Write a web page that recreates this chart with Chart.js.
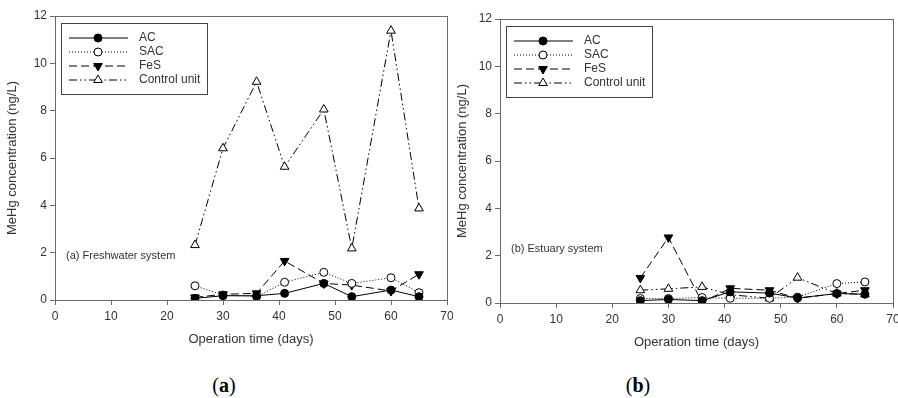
<!DOCTYPE html>
<html>
<head>
<meta charset="utf-8">
<script src="https://cdn.jsdelivr.net/npm/chart.js@4.4.1/dist/chart.umd.min.js"></script>
<style>
  body { margin: 0; background: #fff; width: 898px; height: 398px; overflow: hidden; position: relative; }
  .panel { position: absolute; top: 0; }
  .caption { position: absolute; top: 374px; font-family: 'Liberation Serif', serif; font-size: 20px; color: #000; transform: translateX(-50%); }
  .caption b { font-weight: bold; }
</style>
</head>
<body>
<div class="panel" style="left:0;width:453px;height:350px;"><canvas id="freshChart"></canvas></div>
<div class="panel" style="left:450px;width:449px;height:350px;"><canvas id="estuaryChart"></canvas></div>
<div class="caption" style="left:224px;">(<b>a</b>)</div>
<div class="caption" style="left:638px;">(<b>b</b>)</div>

<script>
// sampling days (x)
const days = [25, 30, 36, 41, 48, 53, 60, 65];
const seriesNames = ['AC', 'SAC', 'FeS', 'Control unit'];
const xTicks = [0, 10, 20, 30, 40, 50, 60, 70];
const yTicks = [0, 2, 4, 6, 8, 10, 12];

// (a) Freshwater system, MeHg ng/L
const freshAC      = [0.07, 0.18, 0.18, 0.28, 0.70, 0.14, 0.42, 0.14];
const freshSAC     = [0.60, 0.21, 0.14, 0.75, 1.17, 0.70, 0.94, 0.31];
const freshFeS     = [0.11, 0.24, 0.28, 1.65, 0.70, 0.63, 0.38, 1.09];
const freshControl = [2.32, 6.41, 9.22, 5.63, 8.05, 2.18, 11.38, 3.87];

// (b) Estuary system, MeHg ng/L
const estAC      = [0.10, 0.15, 0.10, 0.47, 0.42, 0.21, 0.40, 0.37];
const estSAC     = [0.19, 0.19, 0.23, 0.20, 0.20, 0.25, 0.82, 0.89];
const estFeS     = [1.06, 2.77, 0.03, 0.62, 0.54, 0.20, 0.40, 0.54];
const estControl = [0.54, 0.60, 0.68, 0.35, 0.20, 1.07, 0.40, 0.37];

const axisColor = '#6b6b6b';
const textColor = '#333';
const fontFamily = "'Liberation Sans', Arial, sans-serif";

// line + marker style per series
const styles = [
    { dash: [], pointStyle: 'circle', rotation: 0, fill: '#000', radius: 4 },
    { dash: [1, 2], pointStyle: 'circle', rotation: 0, fill: '#fff', radius: 4 },
    { dash: [8, 4], pointStyle: 'triangle', rotation: 180, fill: '#000', radius: 5 },
    { dash: [8, 3, 1.5, 3, 1.5, 3], pointStyle: 'triangle', rotation: 0, fill: '#fff', radius: 5 }
];

function buildDatasets(values) {
    return values.map((vals, i) => ({
        label: seriesNames[i],
        data: days.map((d, j) => ({ x: d, y: vals[j] })),
        borderColor: '#000',
        borderWidth: 1,
        borderDash: styles[i].dash,
        pointStyle: styles[i].pointStyle,
        rotation: styles[i].rotation,
        pointRadius: styles[i].radius,
        pointBackgroundColor: styles[i].fill,
        pointBorderColor: '#000',
        pointBorderWidth: 1,
        tension: 0
    }));
}

// in-plot legend and panel label
const legendPlugin = {
    id: 'legendPlugin',
    afterDraw(chart, args, opts) {
        const ctx = chart.ctx;
        const a = chart.chartArea;
        ctx.save();
        const bx = a.left + 6, by = a.top + 7;
        ctx.setLineDash([]);
        ctx.lineWidth = 1;
        ctx.strokeStyle = '#444';
        ctx.strokeRect(bx + 0.5, by + 0.5, 146, 71);
        ctx.font = '12px ' + fontFamily;
        ctx.textBaseline = 'middle';
        seriesNames.forEach((name, i) => {
            const y = by + 15 + i * 14;
            ctx.strokeStyle = '#000';
            ctx.setLineDash(styles[i].dash);
            ctx.beginPath();
            ctx.moveTo(bx + 8, y);
            ctx.lineTo(bx + 67, y);
            ctx.stroke();
            ctx.setLineDash([]);
            ctx.fillStyle = styles[i].fill;
            ctx.strokeStyle = '#000';
            Chart.helpers.drawPoint(ctx, {
                pointStyle: styles[i].pointStyle,
                rotation: styles[i].rotation,
                radius: styles[i].radius,
                borderWidth: 1
            }, bx + 37, y);
            ctx.fillStyle = textColor;
            ctx.fillText(name, bx + 78, y);
        });

        ctx.font = '11px ' + fontFamily;
        ctx.fillStyle = textColor;
        ctx.fillText(opts.label, a.left + 11, a.top + opts.labelY);
        ctx.restore();
    }
};

// empty axis used only to draw the top / right edge of the box
function edgeAxis(position, min, max) {
    return {
        type: 'linear',
        position: position,
        min: min, max: max,
        display: true,
        ticks: { display: false },
        grid: { drawOnChartArea: false, drawTicks: false },
        border: { display: true, color: axisColor, width: 1 },
        afterFit: s => {
            if (s.isHorizontal()) s.height = 0; else s.width = 0;
            s.paddingLeft = 0; s.paddingRight = 0; s.paddingTop = 0; s.paddingBottom = 0;
        }
    };
}

function makeChart(id, values, cfg) {
    const ctx = document.getElementById(id).getContext('2d');
    return new Chart(ctx, {
        type: 'line',
        data: { datasets: buildDatasets(values) },
        options: {
            responsive: true,
            maintainAspectRatio: false,
            animation: false,
            layout: { padding: { top: cfg.top, right: 0, left: 0, bottom: 0 } },
            plugins: {
                legend: { display: false },
                tooltip: { enabled: false },
                legendPlugin: { label: cfg.label, labelY: cfg.labelY }
            },
            scales: {
                x: {
                    type: 'linear',
                    min: 0, max: 70,
                    afterBuildTicks: s => { s.ticks = xTicks.map(v => ({ value: v })); },
                    afterFit: s => { s.height = cfg.xHeight; s.paddingLeft = 0; s.paddingRight = 0; },
                    grid: { drawOnChartArea: false, tickLength: 5, color: axisColor },
                    border: { color: axisColor, width: 1 },
                    ticks: { color: textColor, font: { size: 12, family: fontFamily }, padding: 4, maxRotation: 0 },
                    title: { display: true, text: 'Operation time (days)', color: textColor, font: { size: 13, family: fontFamily }, padding: { top: 0, bottom: cfg.titlePad } }
                },
                y: {
                    min: 0, max: 12,
                    afterBuildTicks: s => { s.ticks = yTicks.map(v => ({ value: v })); },
                    afterFit: s => { s.width = cfg.yWidth; s.paddingTop = 0; s.paddingBottom = 0; },
                    grid: { drawOnChartArea: false, tickLength: 5, color: axisColor },
                    border: { color: axisColor, width: 1 },
                    ticks: { color: textColor, font: { size: 12, family: fontFamily }, padding: 3 },
                    title: { display: true, text: 'MeHg concentration (ng/L)', color: textColor, font: { size: 13, family: fontFamily }, padding: { top: 5, bottom: 0 } }
                },
                xTop: edgeAxis('top', 0, 70),
                yRight: edgeAxis('right', 0, 12)
            }
        },
        plugins: [legendPlugin]
    });
}

makeChart('freshChart', [freshAC, freshSAC, freshFeS, freshControl],
    { top: 16, yWidth: 55, xHeight: 50, titlePad: 3, label: '(a) Freshwater system', labelY: 240 });
makeChart('estuaryChart', [estAC, estSAC, estFeS, estControl],
    { top: 19, yWidth: 50, xHeight: 47, titlePad: 0, label: '(b) Estuary system', labelY: 230 });
</script>
</body>
</html>
